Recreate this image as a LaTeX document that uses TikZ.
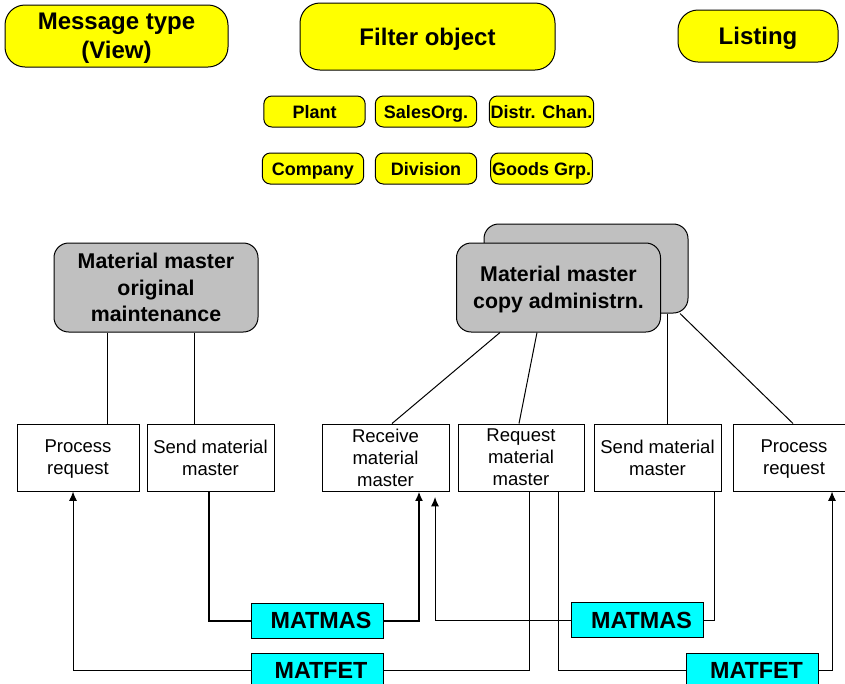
\documentclass[tikz,border=0pt]{standalone}
\usepackage{fontspec}
\setmainfont{Liberation Sans}
\usetikzlibrary{
	positioning				% relative placement
	, arrows.meta			% Latex arrow tips
	, calc
}
\definecolor{headYellow}{HTML}{FFFF00}
\definecolor{adminGray}{HTML}{C0C0C0}
\definecolor{idocCyan}{HTML}{00FFFF}

\begin{document}
\begin{tikzpicture}[
				x=0.75pt, y=-0.75pt,
				element/.style={
					rectangle,
					draw=black, line width=0.75pt,
					align=center,
					inner sep=1pt,
					text depth=0pt
				},
				header/.style={
					element,
					rounded corners=15pt,
					fill=headYellow,
					font=\fontsize{18}{21.75}\selectfont\bfseries
				},
				filter/.style={
					element,
					rounded corners=6pt,
					fill=headYellow,
					minimum width=76pt, minimum height=23.25pt,
					text height=10pt,
					font=\fontsize{13.5}{16}\selectfont\bfseries
				},
				admin/.style={
					element,
					rounded corners=11pt,
					fill=adminGray,
					minimum width=153pt, minimum height=66.75pt,
					font=\fontsize{16}{19.9}\selectfont\bfseries
				},
				task/.style={
					element,
					minimum height=50.25pt,
					font=\fontsize{13.9}{16.5}\selectfont
				},
				lowered/.style={
					execute at begin node={\rule{0pt}{15pt}}
				},
				idoc/.style={
					element,
					fill=idocCyan,
					minimum width=99pt, minimum height=26.25pt,
					font=\fontsize{17.5}{20}\selectfont\bfseries
				},
				link/.style={
					line width=0.75pt
				},
				arrow/.style={
					-{Latex[length=7pt, width=6pt]},
					line width=0.75pt
				},
				heavy/.style={
					line width=1.5pt
				}]

			\useasboundingbox (0,0) rectangle (845,683);

			%%% Header row
			\node [header, minimum width=167.25pt, minimum height=46.5pt] (msgType) at (116.5,36) {Message type\\(View)};
			\node [header, minimum width=191.25pt, minimum height=50.25pt] (filterObj) at (427.5,36.5) {Filter object};
			\node [header, minimum width=120pt, minimum height=39pt] (listing) at (758,36) {Listing};

			% Filter fields below the filter object
			\foreach \name/\txt/\x/\y in {plant/Plant/314.5/111.5, salesOrg/SalesOrg./426/111.5, distrChan/Distr. Chan./541.5/111.5,
					company/Company/313/168.5, division/Division/426/168.5, goodsGrp/Goods Grp./541.5/168.5} {
				\node [filter] (\name) at (\x,\y) {\txt};
			};

			%%% Administration boxes
			\node [admin] (origMaint) at (156,287.5) {Material master\\original\\maintenance};
			\node [admin] (copyBack) at (586,268.5) {};
			\node [admin] (copyAdmin) at (558.5,287.5) {Material master\\copy administrn.};

			%%% Tasks
			\node [task, lowered, minimum width=91.5pt] (procL) at (78,457.5) {Process\\request};
			\node [task, lowered, minimum width=95.25pt] (sendL) at (210.5,457.5) {Send material\\master};
			\node [task, minimum width=95.25pt] (recv) at (385.5,457.5) {Receive\\material\\master};
			\node [task, minimum width=94.5pt] (reqst) at (521,457.5) {Request\\material\\master};
			\node [task, lowered, minimum width=95.25pt] (sendR) at (657.5,457.5) {Send material\\master};
			\node [task, lowered, minimum width=91.5pt] (procR) at (794,457.5) {Process\\request};

			%%% IDocs
			\node [idoc] (matmasL) at (317,620.5) {\hspace{6pt}MATMAS};
			\node [idoc] (matfetL) at (317,670.5) {\hspace{6pt}MATFET};
			\node [idoc] (matmasR) at (637.5,620) {\hspace{6pt}MATMAS};
			\node [idoc] (matfetR) at (752.5,670.5) {\hspace{6pt}MATFET};

			\coordinate (recvIn) at (435,497);

			% Links from administration to tasks
			\draw [link] (origMaint.south -| 107,0) -- (procL.north -| 107,0);
			\draw [link] (origMaint.south -| 194,0) -- (sendL.north -| 194,0);
			\draw [link] (copyAdmin.south -| 500,0) -- (recv.north -| 392,0);
			\draw [link] (copyAdmin.south -| 537,0) -- (reqst.north -| 519,0);
			\draw [link] (copyBack.south -| 667,0) -- (sendR.north -| 667,0);
			\draw [link] (copyBack.south -| 680,0) -- (procR.north -| 793,0);

			% Message flows
			\draw [heavy] (sendL.south -| 209,0) |- (matmasL.west);
			\draw [arrow, heavy] (matmasL.east) -| (recv.south -| 419,0);
			\draw [link] (sendR.south -| 714,0) |- (matmasR.east);
			\draw [arrow] (matmasR.west) -| (recvIn);
			\draw [link] (reqst.south -| 529,0) |- (matfetL.east);
			\draw [arrow] (matfetL.west) -| (procL.south -| 73,0);
			\draw [link] (reqst.south -| 558,0) |- (matfetR.west);
			\draw [arrow] (matfetR.east) -| (procR.south -| 832,0);

		\end{tikzpicture}
\end{document}
